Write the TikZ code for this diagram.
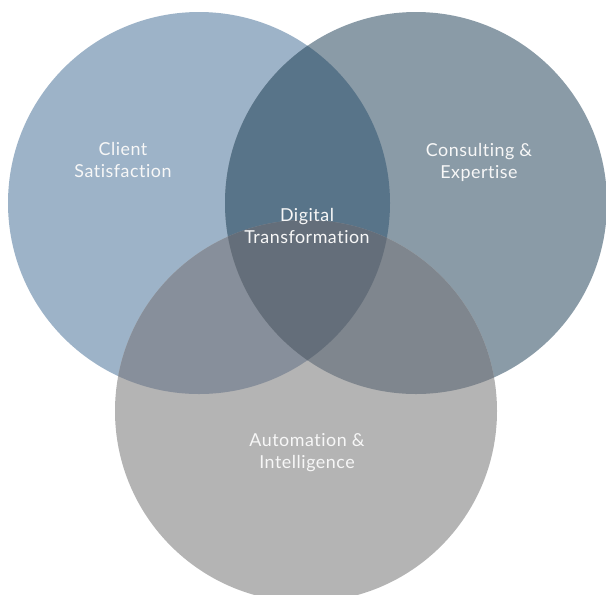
\documentclass[tikz,border=0pt]{standalone}
\usepackage{fontspec}
\setmainfont{Lato}[Ligatures=NoCommon, LetterSpace=3]

\definecolor{clientblue}{HTML}{9DB3C8}
\definecolor{consultgray}{HTML}{8A9BA7}
\definecolor{autogray}{HTML}{B4B4B4}
\definecolor{clientconsult}{HTML}{587489}
\definecolor{clientauto}{HTML}{878F9B}
\definecolor{consultauto}{HTML}{7F868E}
\definecolor{coregray}{HTML}{646E7A}

\tikzset{
  label/.style={text=white!94!gray, align=center, font=\fontsize{13.4}{16.5}\selectfont},
}

\begin{document}
\begin{tikzpicture}[x=0.75pt,y=-0.75pt]
        % Paso 1: Fija el marco y los centros de los circulos
        \useasboundingbox (0,0) rectangle (606,594);
        \clip (0,0) rectangle (606,594);
        \coordinate (C) at (199,203);
        \coordinate (E) at (416,203);
        \coordinate (A) at (306,411);
        \def\rad{191}

        % Paso 2: Rellena los tres circulos
        \fill[clientblue] (C) circle (\rad);
        \fill[consultgray] (E) circle (\rad);
        \fill[autogray] (A) circle (\rad);

        % Paso 3: Rellena las intersecciones de dos en dos
        \begin{scope}
          \clip (C) circle (\rad);
          \fill[clientconsult] (E) circle (\rad);
        \end{scope}
        \begin{scope}
          \clip (C) circle (\rad);
          \fill[clientauto] (A) circle (\rad);
        \end{scope}
        \begin{scope}
          \clip (E) circle (\rad);
          \fill[consultauto] (A) circle (\rad);
        \end{scope}

        % Paso 4: Rellena la region comun
        \begin{scope}
          \clip (C) circle (\rad);
          \clip (E) circle (\rad);
          \fill[coregray] (A) circle (\rad);
        \end{scope}

        % Paso 5: Agrega los textos
        \node[label] (client) at (123,160) {Client\\Satisfaction};
        \node[label] (consult) at (479,162) {Consulting \&\\Expertise};
        \node[label] (digital) at (307,226) {Digital\\Transformation};
        \node[label] (auto) at (307,453) {Automation \&\\Intelligence};
    \end{tikzpicture}
\end{document}
